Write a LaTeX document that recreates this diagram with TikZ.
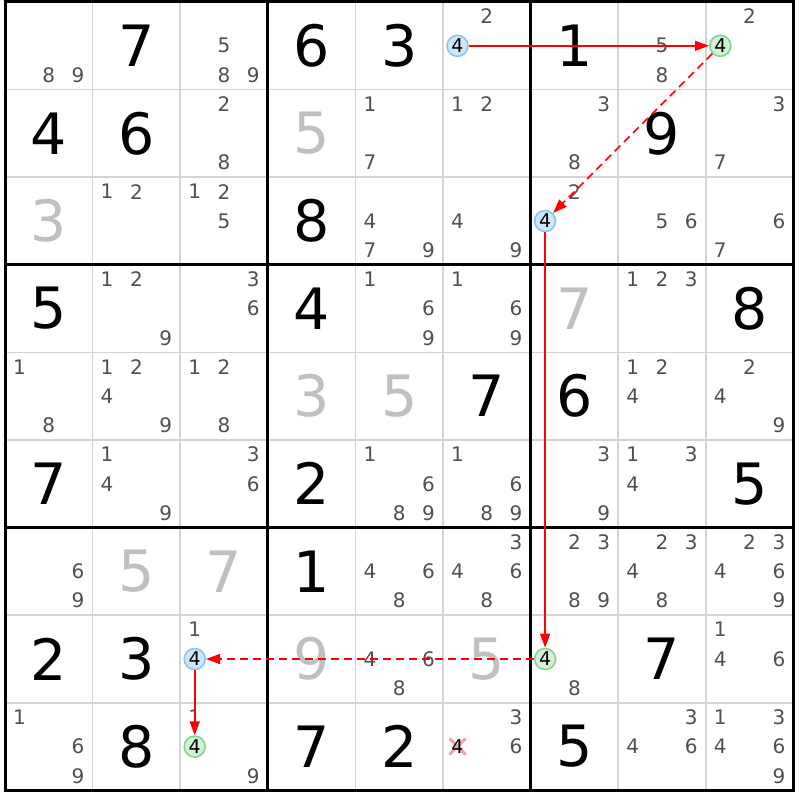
\documentclass[tikz,border=0pt]{standalone}
\usepackage{fontspec}
\setmainfont{DejaVu Sans}
\usetikzlibrary{arrows.meta}
\definecolor{candc}{HTML}{505050}
\definecolor{grayd}{HTML}{C0C0C0}
\definecolor{thinc}{HTML}{D4D4D4}
\definecolor{bluef}{HTML}{CFE5FA}
\definecolor{blues}{HTML}{8CC4F2}
\definecolor{greenf}{HTML}{D3F1D6}
\definecolor{greens}{HTML}{82D692}
\definecolor{crossc}{HTML}{F2A2AA}
\definecolor{linkc}{HTML}{FF0000}
\tikzset{
  givenst/.style={font=\fontsize{57}{57}\selectfont, inner sep=0pt},
  candst/.style={font=\fontsize{20}{20}\selectfont, text=candc, inner sep=0pt},
  hlbase/.style={circle, line width=1.6pt, minimum size=21pt, inner sep=0pt, font=\fontsize{19}{19}\selectfont, text=black},
  hlblue/.style={hlbase, draw=blues, fill=bluef},
  hlgreen/.style={hlbase, draw=greens, fill=greenf},
  crossed/.style={inner sep=0pt, font=\fontsize{19}{19}\selectfont, text=black},
  thinline/.style={draw=thinc, line width=1.5pt},
  thickline/.style={draw=black, line width=3pt},
  link/.style={draw=linkc, line width=1.6pt, -{Triangle[length=14pt,width=10pt]}},
  dashlink/.style={link, line width=1.6pt, dash pattern=on 8pt off 5pt},
  crossst/.style={draw=crossc, line width=3pt}
}
\newcommand\putgiven[4]{%
  \pgfmathsetmacro\cpx{5+(#2+0.5)*87.6}%
  \pgfmathsetmacro\cpy{2+(#1+0.5)*87.6}%
  \node[givenst,text=#4] (g#1#2) at (\cpx,\cpy) {#3};}
\newcommand\putcands[3]{%
  \foreach \k in {#3}{%
    \pgfmathsetmacro\cpx{5+(#2+0.5)*87.6+(mod(\k-1,3)-1)*29.3}%
    \pgfmathsetmacro\cpy{2+(#1+0.5)*87.6+(floor((\k-1)/3)-1)*29.3}%
    \node[candst] (k#1#2\k) at (\cpx,\cpy) {\k};}}
\newcommand\puthl[5]{%
  \pgfmathsetmacro\cpx{5+(#3+0.5)*87.6+(mod(#4-1,3)-1)*29.3}%
  \pgfmathsetmacro\cpy{2+(#2+0.5)*87.6+(floor((#4-1)/3)-1)*29.3}%
  \node[#5] (#1) at (\cpx,\cpy) {#4};}
\begin{document}
\begin{tikzpicture}[x=1pt,y=-1pt]
\fill[white] (0,0) rectangle (800,800);
\useasboundingbox (0,0) rectangle (800,800);
% thin grid lines
\foreach \i in {1,2,4,5,7,8}{
  \draw[thinline] ({5+\i*87.6},2) -- ({5+\i*87.6},790.4);
  \draw[thinline] (5,{2+\i*87.6}) -- (793.4,{2+\i*87.6});
}
% thick grid lines
\foreach \i in {0,3,6,9}{
  \draw[thickline] ({5+\i*87.6},0.5) -- ({5+\i*87.6},791.9);
  \draw[thickline] (3.5,{2+\i*87.6}) -- (794.9,{2+\i*87.6});
}
% givens (black)
\putgiven{0}{1}{7}{black}\putgiven{0}{3}{6}{black}\putgiven{0}{4}{3}{black}\putgiven{0}{6}{1}{black}
\putgiven{1}{0}{4}{black}\putgiven{1}{1}{6}{black}\putgiven{1}{7}{9}{black}
\putgiven{2}{3}{8}{black}
\putgiven{3}{0}{5}{black}\putgiven{3}{3}{4}{black}\putgiven{3}{8}{8}{black}
\putgiven{4}{5}{7}{black}\putgiven{4}{6}{6}{black}
\putgiven{5}{0}{7}{black}\putgiven{5}{3}{2}{black}\putgiven{5}{8}{5}{black}
\putgiven{6}{3}{1}{black}
\putgiven{7}{0}{2}{black}\putgiven{7}{1}{3}{black}\putgiven{7}{7}{7}{black}
\putgiven{8}{1}{8}{black}\putgiven{8}{3}{7}{black}\putgiven{8}{4}{2}{black}\putgiven{8}{6}{5}{black}
% solved (gray)
\putgiven{1}{3}{5}{grayd}\putgiven{2}{0}{3}{grayd}\putgiven{3}{6}{7}{grayd}
\putgiven{4}{3}{3}{grayd}\putgiven{4}{4}{5}{grayd}
\putgiven{6}{1}{5}{grayd}\putgiven{6}{2}{7}{grayd}
\putgiven{7}{3}{9}{grayd}\putgiven{7}{5}{5}{grayd}
% candidates
\putcands{0}{0}{8,9}\putcands{0}{2}{5,8,9}\putcands{0}{5}{2}\putcands{0}{7}{5,8}\putcands{0}{8}{2}
\putcands{1}{2}{2,8}\putcands{1}{4}{1,7}\putcands{1}{5}{1,2}\putcands{1}{6}{3,8}\putcands{1}{8}{3,7}
\putcands{2}{1}{1,2}\putcands{2}{2}{1,2,5}\putcands{2}{4}{4,7,9}\putcands{2}{5}{4,9}\putcands{2}{6}{2}\putcands{2}{7}{5,6}\putcands{2}{8}{6,7}
\putcands{3}{1}{1,2,9}\putcands{3}{2}{3,6}\putcands{3}{4}{1,6,9}\putcands{3}{5}{1,6,9}\putcands{3}{7}{1,2,3}
\putcands{4}{0}{1,8}\putcands{4}{1}{1,2,4,9}\putcands{4}{2}{1,2,8}\putcands{4}{7}{1,2,4}\putcands{4}{8}{2,4,9}
\putcands{5}{1}{1,4,9}\putcands{5}{2}{3,6}\putcands{5}{4}{1,6,8,9}\putcands{5}{5}{1,6,8,9}\putcands{5}{6}{3,9}\putcands{5}{7}{1,3,4}
\putcands{6}{0}{6,9}\putcands{6}{4}{4,6,8}\putcands{6}{5}{3,4,6,8}\putcands{6}{6}{2,3,8,9}\putcands{6}{7}{2,3,4,8}\putcands{6}{8}{2,3,4,6,9}
\putcands{7}{2}{1}\putcands{7}{4}{4,6,8}\putcands{7}{6}{8}\putcands{7}{8}{1,4,6}
\putcands{8}{0}{1,6,9}\putcands{8}{2}{1,9}\putcands{8}{5}{3,6}\putcands{8}{7}{3,4,6}\putcands{8}{8}{1,3,4,6,9}
% crossed candidate
\coordinate (xc) at ({5+5.5*87.6-29.3},{2+8.5*87.6});
\draw[crossst] ([shift={(-8,-8)}]xc) -- ([shift={(8,8)}]xc);
\draw[crossst] ([shift={(-8,8)}]xc) -- ([shift={(8,-8)}]xc);
\node[crossed] (x85) at (xc) {4};
% highlighted candidates
\puthl{a1}{0}{5}{4}{hlblue}
\puthl{a2}{0}{8}{4}{hlgreen}
\puthl{a3}{2}{6}{4}{hlblue}
\puthl{a4}{7}{6}{4}{hlgreen}
\puthl{a5}{7}{2}{4}{hlblue}
\puthl{a6}{8}{2}{4}{hlgreen}
% links
\draw[link] (a1) -- (a2);
\draw[dashlink] (a2) -- (a3);
\draw[link] (a3) -- (a4);
\draw[dashlink] (a4) -- (a5);
\draw[link] (a5) -- (a6);
\end{tikzpicture}
\end{document}
